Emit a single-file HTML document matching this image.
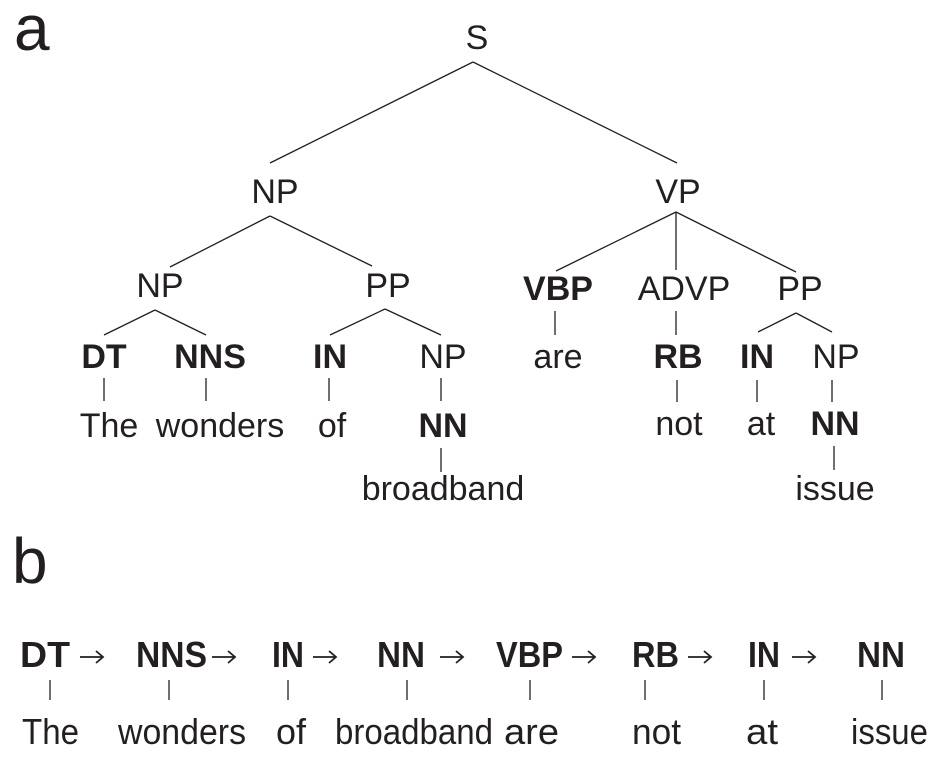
<!DOCTYPE html>
<html><head><meta charset="utf-8"><style>
html,body{margin:0;padding:0;background:#fff}
svg{display:block}
text{font-family:"Liberation Sans",sans-serif;fill:#231f20}
.b{font-weight:bold}
</style></head><body>
<svg width="938" height="757" viewBox="0 0 938 757" xmlns="http://www.w3.org/2000/svg">
<g stroke="#231f20" stroke-width="1.3" fill="none">
<line x1="473" y1="62" x2="270" y2="163"/>
<line x1="473" y1="62" x2="677" y2="163"/>
<line x1="270" y1="216" x2="170" y2="267"/>
<line x1="270" y1="216" x2="372" y2="266"/>
<line x1="155" y1="310" x2="104" y2="335"/>
<line x1="155" y1="310" x2="206" y2="335"/>
<line x1="385" y1="309" x2="330" y2="335"/>
<line x1="385" y1="309" x2="441" y2="335"/>
<line x1="104" y1="378" x2="104" y2="401"/>
<line x1="206" y1="378" x2="206" y2="401"/>
<line x1="329" y1="378" x2="329" y2="401"/>
<line x1="441" y1="378" x2="441" y2="401"/>
<line x1="441" y1="448" x2="441" y2="472"/>
<line x1="676" y1="212" x2="556" y2="271"/>
<line x1="676" y1="212" x2="676" y2="270"/>
<line x1="676" y1="212" x2="796" y2="272"/>
<line x1="555" y1="311" x2="555" y2="335"/>
<line x1="676" y1="311" x2="676" y2="335"/>
<line x1="796" y1="313" x2="758" y2="332"/>
<line x1="796" y1="313" x2="832" y2="332"/>
<line x1="677" y1="380" x2="677" y2="402"/>
<line x1="757" y1="380" x2="757" y2="402"/>
<line x1="832" y1="380" x2="832" y2="402"/>
<line x1="834" y1="446" x2="834" y2="470"/>
<line x1="50" y1="680" x2="50" y2="700"/>
<line x1="169" y1="680" x2="169" y2="700"/>
<line x1="288" y1="680" x2="288" y2="700"/>
<line x1="407" y1="680" x2="407" y2="700"/>
<line x1="530" y1="680" x2="530" y2="700"/>
<line x1="645" y1="680" x2="645" y2="700"/>
<line x1="764" y1="680" x2="764" y2="700"/>
<line x1="882" y1="680" x2="882" y2="700"/>
</g>
<g stroke="#231f20" stroke-width="1.8" fill="none">
<path d="M80 657h23M96 651l7 6-7 6"/>
<path d="M212 657h23M228 651l7 6-7 6"/>
<path d="M313 657h23M329 651l7 6-7 6"/>
<path d="M440 657h23M456 651l7 6-7 6"/>
<path d="M572 657h23M588 651l7 6-7 6"/>
<path d="M688 657h23M704 651l7 6-7 6"/>
<path d="M792 657h23M808 651l7 6-7 6"/>
</g>
<g font-size="34" text-anchor="middle">
<text x="14" y="50" font-size="64" text-anchor="start">a</text>
<text x="12" y="583" font-size="64" text-anchor="start">b</text>
<text x="477" y="49">S</text>
<text x="275" y="203">NP</text>
<text x="678" y="203">VP</text>
<text x="160" y="297">NP</text>
<text x="388" y="297">PP</text>
<text x="104" y="368" class="b">DT</text>
<text x="210" y="368" class="b">NNS</text>
<text x="330" y="368" class="b">IN</text>
<text x="443" y="368">NP</text>
<text x="109" y="437">The</text>
<text x="220" y="437">wonders</text>
<text x="332" y="437">of</text>
<text x="443" y="437" class="b">NN</text>
<text x="443" y="500">broadband</text>
<text x="558" y="300" class="b">VBP</text>
<text x="684" y="300">ADVP</text>
<text x="800" y="300">PP</text>
<text x="558" y="368">are</text>
<text x="678" y="368" class="b">RB</text>
<text x="757" y="368" class="b">IN</text>
<text x="836" y="368">NP</text>
<text x="679" y="435">not</text>
<text x="761" y="435">at</text>
<text x="835" y="435" class="b">NN</text>
<text x="835" y="500">issue</text>
</g>
<g font-size="36">
<text x="20" y="667" class="b" textLength="50" lengthAdjust="spacingAndGlyphs">DT</text>
<text x="136" y="667" class="b" textLength="71" lengthAdjust="spacingAndGlyphs">NNS</text>
<text x="272" y="667" class="b" textLength="32" lengthAdjust="spacingAndGlyphs">IN</text>
<text x="377" y="667" class="b" textLength="48" lengthAdjust="spacingAndGlyphs">NN</text>
<text x="496" y="667" class="b" textLength="67" lengthAdjust="spacingAndGlyphs">VBP</text>
<text x="632" y="667" class="b" textLength="47" lengthAdjust="spacingAndGlyphs">RB</text>
<text x="748" y="667" class="b" textLength="32" lengthAdjust="spacingAndGlyphs">IN</text>
<text x="857" y="667" class="b" textLength="48" lengthAdjust="spacingAndGlyphs">NN</text>
<text x="22" y="744" textLength="57" lengthAdjust="spacingAndGlyphs">The</text>
<text x="118" y="744" textLength="128" lengthAdjust="spacingAndGlyphs">wonders</text>
<text x="276" y="744" textLength="30" lengthAdjust="spacingAndGlyphs">of</text>
<text x="335" y="744" textLength="158" lengthAdjust="spacingAndGlyphs">broadband</text>
<text x="504" y="744" textLength="55" lengthAdjust="spacingAndGlyphs">are</text>
<text x="632" y="744" textLength="49" lengthAdjust="spacingAndGlyphs">not</text>
<text x="746" y="744" textLength="32" lengthAdjust="spacingAndGlyphs">at</text>
<text x="851" y="744" textLength="77" lengthAdjust="spacingAndGlyphs">issue</text>
</g>
</svg>
</body></html>
